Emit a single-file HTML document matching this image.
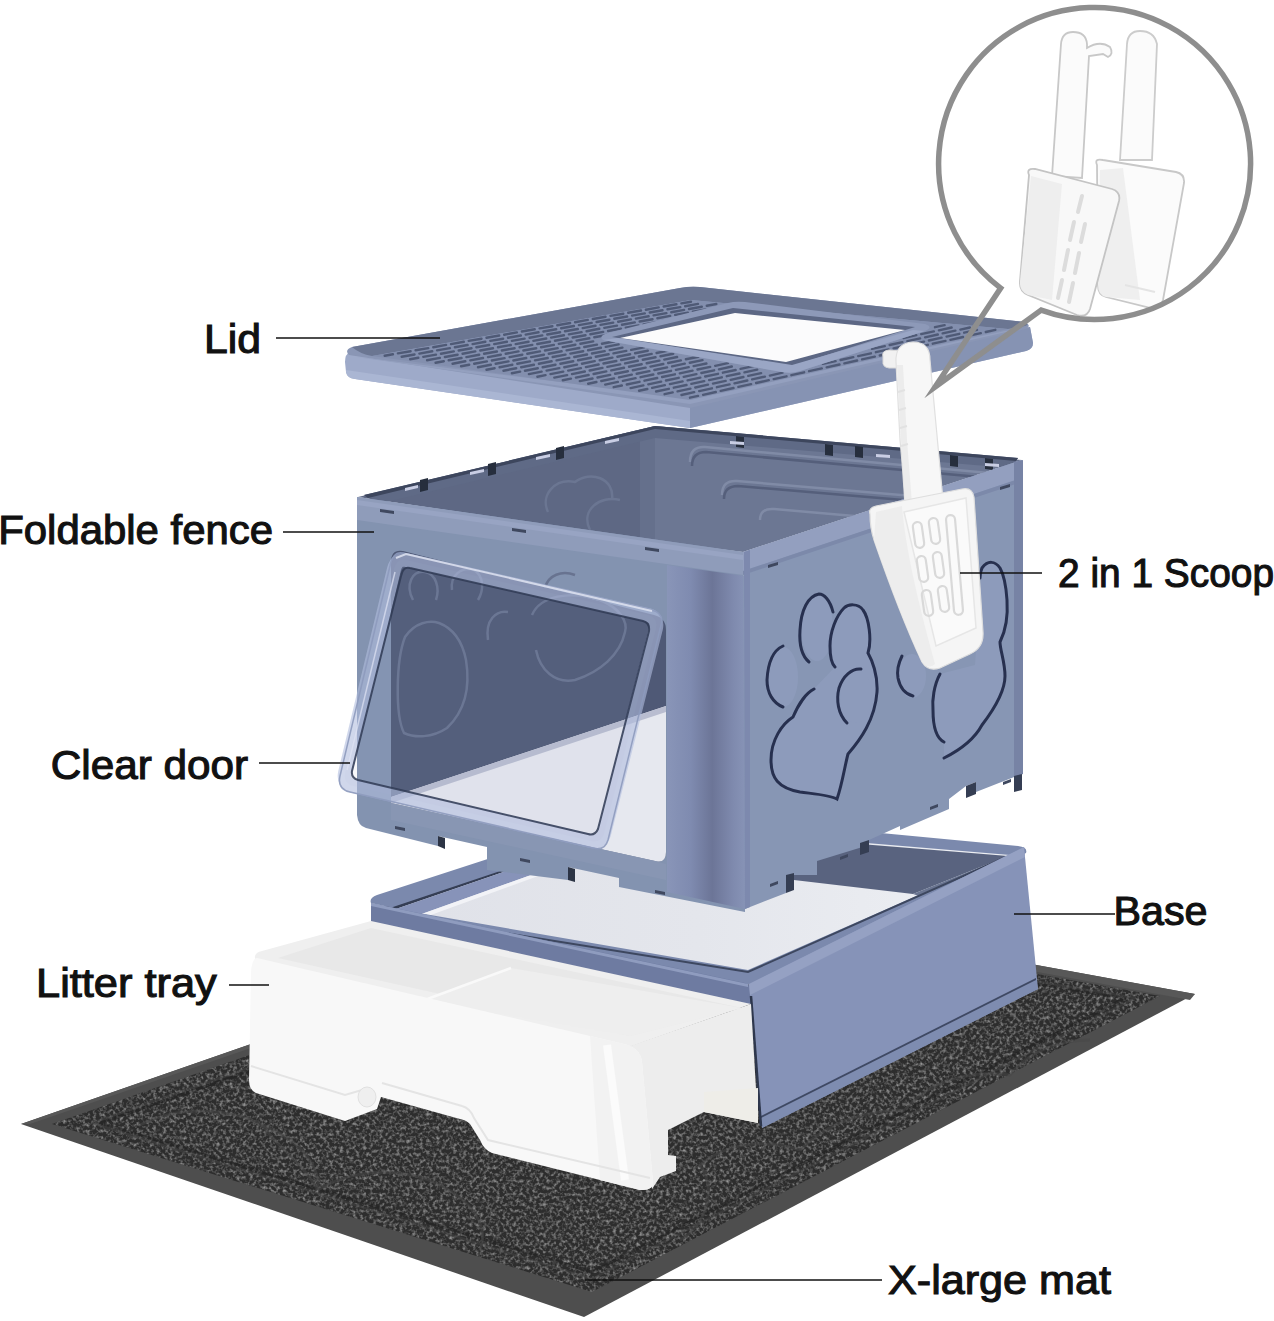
<!DOCTYPE html>
<html><head><meta charset="utf-8">
<style>
html,body{margin:0;padding:0;background:#fff;width:1274px;height:1321px;overflow:hidden}
svg{display:block}
.lb{font-family:"Liberation Sans",sans-serif;font-weight:normal;font-size:40px;fill:#111;stroke:#111;stroke-width:1.1px}
.ln{stroke:#111;stroke-width:1.6}
</style></head><body>
<svg width="1274" height="1321" viewBox="0 0 1274 1321">
<defs>
<filter id="noise" x="0" y="0" width="100%" height="100%">
<feTurbulence type="fractalNoise" baseFrequency="0.3" numOctaves="2" seed="7" result="n"/>
<feColorMatrix in="n" type="matrix" values="0 0 0 0 0.31  0 0 0 0 0.31  0 0 0 0 0.31  2.2 0 0 0 -0.95" result="m"/>
<feComposite in="m" in2="SourceGraphic" operator="in"/>
</filter>
</defs>

<!-- MAT -->
<g id="mat">
<polygon points="21,1124 670,898 1195,994 584,1317" fill="#4e4e4e"/>
<polygon points="21,1124 670,898 1195,994 1190,1000 670,904 30,1124" fill="#585858"/>
<polygon points="52,1124 670,908 1160,996 592,1292" fill="#2d2d2d"/>
<polygon points="52,1124 670,908 1160,996 592,1292" fill="#000" filter="url(#noise)"/>
<g fill="none" stroke-linejoin="round">
<polygon points="100,1123 670,925 1125,998 592,1272" stroke="#1f1f1f" stroke-width="3" stroke-opacity="0.45"/>
<polygon points="92,1123 670,920 1135,998 592,1279" stroke="#4a4a4a" stroke-width="2.5" stroke-opacity="0.4"/>
<g stroke="#474747" stroke-width="3" stroke-opacity="0.55">
<path d="M140,1125 C180,1105 230,1108 262,1125 C300,1140 320,1165 318,1190 M318,1190 C350,1170 400,1165 440,1185 C470,1200 490,1225 480,1250"/>
<path d="M262,1125 C280,1150 300,1160 318,1190"/>
<path d="M700,1165 C730,1140 770,1140 800,1150 C830,1120 870,1110 905,1110 M905,1110 C930,1080 970,1070 1010,1075 C1030,1050 1060,1040 1090,1040"/>
<path d="M700,1165 C720,1195 700,1230 680,1240"/>
</g>
</g>
</g>

<!-- BASE -->
<g id="base">
<defs>
<linearGradient id="flr" x1="0" y1="0" x2="1" y2="0">
<stop offset="0" stop-color="#dfe1e8"/><stop offset="0.5" stop-color="#e4e6ec"/><stop offset="1" stop-color="#eef0f4"/>
</linearGradient>
</defs>
<!-- floor -->
<polygon points="371,903 640,815 1026,849 749,984" fill="url(#flr)"/>
<!-- back-right inner wall dark -->
<polygon points="640,826 1008,856 913,894 640,862" fill="#59637f"/>
<polygon points="913,894 1008,856 1010,864 922,897" fill="#6a7591"/>
<!-- back-left inner wall dark -->
<polygon points="384,906 638,819 640,825 390,911" fill="#353e54"/>
<polygon points="390,911 640,825 640,836 402,921" fill="#8793b9"/>
<polygon points="402,921 640,836 640,839 406,924" fill="#f2f3f7"/>
<!-- rim top band (outer) -->
<path d="M371,903 Q369,898 377,895 L638,810 L1018,846 Q1028,847 1026,853 L757,982 Q749,986 743,984 Z M390,908 L640,824 L1010,855 L748,970 Z" fill="#7b89ad" fill-rule="evenodd"/>
<!-- inner dark line -->
<path d="M398,916 L748,972 L1006,857" fill="none" stroke="#3d475f" stroke-width="2"/>
<!-- front-left strip -->
<path d="M371,903 L745,983 Q752,985 752,994 L752,1005 L371,922 Z" fill="#6e7ba1"/>
<polygon points="371,903 748,984 748,987 371,906" fill="#8f9cbf"/>
<!-- right face -->
<polygon points="749,984 1024,847 1038,989 762,1128" fill="#8693b8"/>
<polygon points="749,984 1024,847 1025,857 750,995" fill="#95a1c3"/>
<polygon points="761,1116 1036,978 1038,989 762,1128" fill="#7e8cb0"/>
<polygon points="761,1116 1036,978 1036,980 761,1118" fill="#3f4963"/>
<line x1="751" y1="996" x2="761" y2="1126" stroke="#2e374d" stroke-width="2.5"/>
</g>


<!-- TRAY -->
<g id="tray">
<!-- top surface -->
<path d="M262,951 L371,921 L751,1004 L632,1046 Q625,1047 618,1045 L262,965 Q254,962 255,956 Q256,952 262,951 Z" fill="#efefef"/>
<polygon points="278,958 371,928 742,1008 630,1036" fill="#e8e8e8"/>
<polygon points="423,1001 511,968 742,1008 630,1036" fill="#eeeeee"/>
<line x1="422" y1="1001" x2="511" y2="968" stroke="#f9f9f9" stroke-width="2.5"/>
<!-- right face -->
<path d="M630,1046 L751,1004 L758,1123 L704,1112 L668,1130 L668,1155 L676,1156 L676,1171 L660,1177 L652,1189 L640,1100 Z" fill="#ededed"/>
<polygon points="704,1092 758,1088 758,1123 704,1112" fill="#eeede8"/>
<!-- front face -->
<path d="M257,958 L620,1043 Q641,1047 642,1062 L653,1182 Q653,1191 640,1190 L492,1153 Q484,1150 480,1140 L470,1124 Q466,1120 460,1119 L381,1097 L377,1109 L345,1121 L256,1093 Q249,1090 249,1080 L251,972 Q252,958 257,958 Z" fill="#f8f8f8"/>
<path d="M590,1036 L620,1043 Q641,1047 642,1062 L653,1182 Q653,1191 640,1190 L600,1180 Z" fill="#f2f2f2"/>
<path d="M607,1045 L625,1180" stroke="#fcfcfc" stroke-width="8" opacity="0.9"/>
<path d="M251,1066 L345,1095 L362,1090" fill="none" stroke="#e4e4e4" stroke-width="2"/>
<path d="M382,1083 L462,1106 Q470,1108 474,1118 L488,1140 L650,1178" fill="none" stroke="#e4e4e4" stroke-width="2"/>
<ellipse cx="367" cy="1097" rx="9" ry="10" fill="#efefef" stroke="#e0e0e0" stroke-width="1"/>
</g>


<!-- FENCE -->
<g id="fence">
<!-- interior walls seen from top -->
<polygon points="358,497 655,426 655,541" fill="#5e6884"/>
<polygon points="655,426 1022,460 743,552 655,541" fill="#6c7793"/>
<!-- vertical inner corner shading -->
<polygon points="640,431 655,426 655,541 640,539" fill="#65708c"/>
<!-- inner concentric rectangles emboss on back-right wall -->
<g fill="none" stroke-width="2.5">
<path d="M690,462 Q690,446 705,447 L1000,474" stroke="#808ba6"/>
<path d="M692,466 Q692,452 706,452 L990,478" stroke="#555f7b"/>
<path d="M722,495 Q722,480 737,481 L960,500" stroke="#808ba6"/>
<path d="M724,499 Q724,486 738,486 L950,504" stroke="#555f7b"/>
<path d="M760,520 Q760,508 774,509 L900,520" stroke="#808ba6"/>
</g>
<!-- faint paw emboss on back-left inner wall -->
<g fill="none" stroke="#6b7692" stroke-width="2.5">
<path d="M548,512 C540,495 555,478 575,482 C590,470 615,478 612,500"/>
<path d="M590,530 C580,510 600,495 620,500"/>
</g>
<!-- top rim dark slot strip -->
<polygon points="364,495 655,426 1018,458 1010,468 655,438 378,504" fill="#5f6a86"/>
<polygon points="364,495 655,426 1018,458 1016,461 655,429 368,498" fill="#3d465d"/>
<g fill="#262e3d">
<polygon points="420,480 428,478 428,490 420,492"/>
<polygon points="488,464 496,462 496,474 488,476"/>
<polygon points="556,448 564,446 564,458 556,460"/>
<polygon points="736,436 744,437 744,448 736,447"/>
<polygon points="825,444 833,445 833,456 825,455"/>
<polygon points="855,446 863,447 863,458 855,457"/>
<polygon points="950,455 958,456 958,467 950,466"/>
<polygon points="985,458 993,459 993,470 985,469"/>
</g>
<g fill="#c9cee4">
<polygon points="405,488 418,485 418,488 405,491"/>
<polygon points="470,472 484,469 484,472 470,475"/>
<polygon points="536,457 550,454 550,457 536,460"/>
<polygon points="605,441 619,438 619,441 605,444"/>
<polygon points="730,441 744,442 744,445 730,444"/>
<polygon points="876,454 890,455 890,458 876,457"/>
<polygon points="985,463 999,464 999,467 985,466"/>
</g>
<!-- front-left face (frame) -->
<path d="M357,497 L743,552 L745,912 L619,887 L619,878 L568,867 L568,880 L487,870 L487,847 L438,836 L438,846 L366,828 Q358,826 357,815 Z" fill="#8393b0"/>
<g fill="#2c3445"><polygon points="438,836 445,838 445,849 438,846"/><polygon points="568,867 575,869 575,882 568,880"/></g>
<!-- door opening: interior far wall -->
<path d="M391,562 Q391,549 403,551 L654,615 Q666,618 666,630 L666,852 Q666,864 655,861 L391,803 Z" fill="#4f5976"/>
<!-- faint paws on far wall -->
<g fill="none" stroke="#687390" stroke-width="2.5">
<path d="M404,733 C395,715 396,660 405,637 C415,622 430,620 439,623 C452,628 462,640 466,660 C470,685 466,710 447,728 C432,738 415,738 404,733 Z"/>
<path d="M413,600 C405,585 412,570 425,572 C436,574 440,588 436,600"/>
<path d="M452,590 C450,575 462,566 474,570 C484,576 484,590 478,600"/>
<path d="M488,640 C485,620 496,610 508,612"/>
<path d="M532,615 C540,596 570,590 600,600 C620,608 628,622 625,632 C620,655 600,672 575,680 C555,684 540,670 536,650"/>
<path d="M545,588 C548,575 562,570 575,575"/>
</g>
<!-- floor seen through opening -->
<path d="M391,797 L666,706 L666,852 Q666,864 655,861 L391,803 Z" fill="#e6e8ef"/>
<polygon points="391,797 666,706 666,712 391,803" fill="#b9bdd0"/>
<!-- top rim band front-left -->
<polygon points="357,497 743,552 743,575 357,520" fill="#8f9cba"/>
<polygon points="357,500 743,555 743,560 357,505" fill="#98a4c3"/>
<!-- front corner pillar highlight -->
<defs><linearGradient id="pil" x1="0" y1="0" x2="1" y2="0">
<stop offset="0" stop-color="#8995b8"/><stop offset="0.3" stop-color="#7f8bb0"/><stop offset="0.58" stop-color="#6c7597"/><stop offset="0.85" stop-color="#7f8aae"/><stop offset="1" stop-color="#8793b6"/></linearGradient></defs>
<polygon points="667,565 745,576 745,909 667,892" fill="url(#pil)"/>
<!-- bottom band below door -->
<polygon points="391,803 655,861 666,864 666,880 391,820" fill="#8896b3"/>
<!-- tab slots front-left -->
<g fill="#3f485f">
<polygon points="380,509 394,511 394,514 380,512"/>
<polygon points="512,528 526,530 526,533 512,531"/>
<polygon points="645,547 659,549 659,552 645,550"/>
<polygon points="395,826 405,828 405,831 395,829"/>
<polygon points="520,858 530,860 530,863 520,861"/>
<polygon points="655,890 665,892 665,895 655,893"/>
</g>
<!-- right face -->
<path d="M743,552 L1022,460 L1022,774 L976,792 L976,782 L966,786 L949,799 L949,809 L900,830 L900,826 L869,840 L869,845 L817,861 L817,875 L786,875 L786,893 L745,909 Z" fill="#8796b4"/>
<polygon points="743,552 1022,460 1022,478 743,571" fill="#939fbf"/>
<polygon points="743,571 1022,478 1022,482 743,575" fill="#7c89aa"/>
<!-- front vertical corner edge -->
<polygon points="744,552 750,550 750,907 745,909" fill="#7d89ae"/>
<!-- right edge -->
<polygon points="1014,462 1023,460 1023,774 1014,778" fill="#7783a5"/>
<!-- dark tab notches right face -->
<g fill="#353e53">
<polygon points="786,875 794,873 794,890 786,893"/>
<polygon points="860,843 869,840 869,852 860,855"/>
<polygon points="966,786 976,782 976,794 966,798"/>
<polygon points="1014,776 1022,774 1022,790 1014,792"/>
</g>
<g fill="#3f485f">
<polygon points="768,565 778,562 778,565 768,568"/>
<polygon points="890,524 900,521 900,524 890,527"/>
<polygon points="1000,487 1010,484 1010,487 1000,490"/>
<polygon points="770,884 778,881 778,884 770,887"/>
<polygon points="840,857 848,854 848,857 840,860"/>
<polygon points="930,807 938,804 938,807 930,810"/>
<polygon points="1003,782 1011,779 1011,782 1003,785"/>
</g>
<!-- paws on right face -->
<g fill="#95a2c4" opacity="0.45">
<path d="M814,689 C806,693 798,705 793,717 C782,724 771,740 771,760 C771,778 778,788 800,792 C815,794 830,795 837,799 C842,785 845,765 848,754 C860,740 875,720 877,692 C878,675 872,660 868,653 C872,640 869,618 863,610 C858,603 848,604 844,608 C836,616 830,632 830,646 C830,656 832,664 835,667 Z"/>
<ellipse cx="817" cy="628" rx="16" ry="33"/>
<ellipse cx="783" cy="677" rx="15" ry="30"/>
<ellipse cx="856" cy="696" rx="16" ry="27"/>
<path d="M944,758 C960,750 975,738 982,725 C995,708 1005,690 1005,676 C1005,662 1000,650 1000,642 C1006,630 1008,615 1007,600 C1006,585 1004,575 1000,568 C995,561 988,560 982,568 L975,665 L940,674 C934,685 932,700 933,710 C933,725 936,738 944,742 Z"/>
<ellipse cx="912" cy="676" rx="14" ry="22"/>
</g>
<g fill="none" stroke="#27304f" stroke-width="3" stroke-linecap="round">
<path d="M814,689 C806,693 798,705 793,717 C782,724 771,740 771,760 C771,778 778,788 800,792 C815,794 830,795 837,799 C842,785 845,765 848,754 C860,740 875,720 877,692 C878,675 872,660 868,653 C872,640 869,618 863,610 C858,603 848,604 844,608 C836,616 830,632 830,646 C830,656 832,664 835,667"/>
<path d="M833,612 C830,600 824,594 819,594 C808,596 801,610 800,630 C799,645 802,656 809,662"/>
<path d="M783,646 C774,650 768,662 767,680 C767,693 773,703 783,707"/>
<path d="M861,669 C852,668 843,676 839,688 C836,700 838,714 847,723"/>
<path d="M940,674 C934,685 932,700 933,710 C933,725 936,738 944,742"/>
<path d="M944,758 C960,750 975,738 982,725 C995,708 1005,690 1005,676 C1005,662 1000,650 1000,642 C1006,630 1008,615 1007,600 C1006,585 1004,575 1000,568 C995,561 988,560 982,568 C980,572 980,576 980,578"/>
<path d="M902,656 C898,664 897,672 898,678 C900,688 905,694 913,696"/>
</g>

</g>


<g id="door">
<path d="M406,560 L648,615 Q658,618 656,628 L604,834 Q601,843 591,841 L353,786 Q343,783 345,773 L394,569 Q397,558 406,560 Z" fill="#9aa7c9" fill-opacity="0.08" stroke="#b0bddd" stroke-opacity="0.6" stroke-width="14" stroke-linejoin="round"/>
<path d="M403,553 L652,610 Q664,613 661,625 L608,840 Q605,851 593,848 L350,792 Q337,789 340,776 L390,566 Q393,551 403,553 Z" fill="none" stroke="#8d9abc" stroke-width="1.5" stroke-opacity="0.9"/>
<path d="M410,568 L643,621 Q650,623 649,631 L598,829 Q595,836 588,834 L358,780 Q351,778 352,771 L401,576 Q403,566 410,568 Z" fill="none" stroke="#2f3a54" stroke-width="2" stroke-opacity="0.85"/>
<path d="M396,558 L406,554 L652,611" fill="none" stroke="#e3e7f4" stroke-width="2" stroke-opacity="0.8"/>
<path d="M347,770 L395,572" fill="none" stroke="#dfe4f4" stroke-width="1.5" stroke-opacity="0.7"/>
</g>
<!-- LID -->
<g id="lid">
<path d="M350,352 Q345,354 345,362 L346,372 Q347,378 355,379 L690,428 L1026,351 Q1033,349 1033,343 L1030,327 L690,407 Z" fill="#9eaac9"/>
<path d="M690,407 L1030,327 L1033,343 Q1033,349 1026,351 L690,428 Z" fill="#8693b3"/>
<path d="M346,370 L690,421 L690,428 L355,379 Q347,378 346,372 Z" fill="#aab6d3"/>
<path d="M352,347 Q344,350 349,355 L690,408 L1026,329 Q1032,326 1025,322 L700,287 Q690,286 680,288 Z" fill="#8a96b5"/>
<path d="M352,347 L680,288 Q690,286 700,287 L1025,322 Q1032,326 1018,327 L1008,329 L691,300 L372,356 Q360,354 352,347 Z" fill="#6b7692"/>
<polygon points="356,357 690,404 1015,330 1005,331 690,398 375,359" fill="#94a0bf"/>
<polygon points="372,356 691,300 1008,329 690,400" fill="#838fae"/>
<path d="M384.7,355.8L392.9,354.3M397.9,353.4L410.6,351.2M415.6,350.3L428.3,348.1M433.3,347.2L446.1,344.9M451.0,344.1L463.8,341.8M468.7,340.9L481.5,338.7M486.5,337.8L499.2,335.5M504.2,334.7L516.9,332.4M521.9,331.5L534.7,329.3M539.6,328.4L552.4,326.2M557.3,325.3L570.1,323.0M575.1,322.2L587.8,319.9M592.8,319.0L605.5,316.8M610.5,315.9L623.3,313.7M628.2,312.8L641.0,310.5M645.9,309.7L658.7,307.4M663.7,306.5L676.4,304.3M681.4,303.4L691.0,301.7M401.7,356.7L414.5,354.5M419.4,353.6L432.2,351.3M437.1,350.4L449.9,348.1M454.9,347.3L467.6,345.0M472.6,344.1L485.3,341.8M490.3,340.9L503.1,338.7M508.0,337.8L520.8,335.5M525.7,334.6L538.5,332.3M543.5,331.5L556.2,329.2M561.2,328.3L573.9,326.0M578.9,325.1L591.7,322.9M596.6,322.0L609.4,319.7M614.3,318.8L627.1,316.5M632.1,315.6L644.8,313.4M649.8,312.5L662.5,310.2M667.5,309.3L680.3,307.1M685.2,306.2L698.0,303.9M410.2,359.2L418.3,357.8M423.3,356.9L436.0,354.6M441.0,353.7L453.8,351.4M458.7,350.5L471.5,348.2M476.4,347.3L489.2,345.0M494.2,344.1L506.9,341.8M511.9,340.9L524.6,338.6M529.6,337.7L542.3,335.4M547.3,334.5L560.1,332.2M565.0,331.3L577.8,329.0M582.7,328.1L595.5,325.8M600.5,324.9L613.2,322.6M618.2,321.7L630.9,319.4M635.9,318.6L648.6,316.3M653.6,315.4L666.4,313.1M671.3,312.2L684.1,309.9M689.0,309.0L701.8,306.7M706.8,305.8L716.3,304.0M427.1,360.2L439.9,357.9M444.9,357.0L457.6,354.7M462.6,353.8L475.3,351.4M480.3,350.5L493.0,348.2M498.0,347.3L510.8,345.0M515.7,344.1L528.5,341.8M533.4,340.9L546.2,338.5M551.1,337.6L563.9,335.3M568.9,334.4L581.6,332.1M586.6,331.2L599.3,328.8M604.3,327.9L617.0,325.6M622.0,324.7L634.8,322.4M639.7,321.5L652.5,319.2M657.4,318.3L670.2,315.9M675.2,315.0L687.9,312.7M692.9,311.8L705.6,309.5M435.6,362.7L443.8,361.2M448.7,360.3L461.5,358.0M466.4,357.1L479.2,354.7M484.1,353.8L496.9,351.5M501.9,350.5L514.6,348.2M519.6,347.3L532.3,344.9M537.3,344.0L550.0,341.7M555.0,340.8L567.7,338.4M572.7,337.5L585.5,335.2M590.4,334.2L603.2,331.9M608.1,331.0L620.9,328.6M625.8,327.7L638.6,325.4M643.6,324.5L656.3,322.1M661.3,321.2L674.0,318.9M452.6,363.7L465.3,361.3M470.3,360.4L483.0,358.0M488.0,357.1L500.8,354.7M505.7,353.8L518.5,351.4M523.4,350.5L536.2,348.2M541.1,347.2L553.9,344.9M558.8,343.9L571.6,341.6M576.6,340.6L589.3,338.3M594.3,337.3L607.0,335.0M612.0,334.1L624.7,331.7M461.1,366.2L469.2,364.7M474.2,363.8L486.9,361.4M491.9,360.5L504.6,358.1M509.6,357.1L522.3,354.7M527.3,353.8L540.0,351.4M545.0,350.5L557.7,348.1M562.7,347.1L575.4,344.7M580.4,343.8L593.2,341.4M478.0,367.2L490.8,364.8M495.7,363.8L508.5,361.4M513.4,360.5L526.2,358.0M531.1,357.1L543.9,354.7M548.8,353.7L561.6,351.3M566.6,350.4L579.3,348.0M584.3,347.0L597.0,344.6M602.0,343.7L614.7,341.2M486.5,369.7L494.6,368.2M499.6,367.2L512.3,364.8M517.3,363.8L530.0,361.4M535.0,360.4L547.7,358.0M552.7,357.0L565.5,354.6M570.4,353.6L583.2,351.2M588.1,350.3L600.9,347.8M605.8,346.9L618.6,344.4M503.5,370.7L516.2,368.2M521.2,367.2L533.9,364.8M538.9,363.8L551.6,361.3M556.6,360.4L569.3,357.9M574.3,357.0L587.0,354.5M592.0,353.5L604.7,351.1M609.7,350.1L622.4,347.6M511.9,373.2L520.1,371.6M525.0,370.7L537.8,368.2M542.7,367.2L555.5,364.7M560.4,363.8L573.2,361.3M578.1,360.3L590.9,357.8M595.8,356.8L608.6,354.3M613.5,353.4L626.3,350.9M631.2,349.9L644.0,347.4M528.9,374.1L541.6,371.6M546.6,370.6L559.3,368.1M564.3,367.2L577.0,364.6M582.0,363.7L594.7,361.1M599.7,360.2L612.4,357.6M617.4,356.7L630.1,354.2M635.1,353.2L647.8,350.7M537.4,376.7L545.5,375.1M550.5,374.1L563.2,371.6M568.2,370.6L580.9,368.1M585.9,367.1L598.6,364.5M603.5,363.5L616.3,361.0M621.2,360.0L634.0,357.5M638.9,356.5L651.7,353.9M656.6,353.0L669.4,350.4M554.3,377.6L567.1,375.1M572.0,374.1L584.8,371.5M589.7,370.5L602.5,367.9M607.4,366.9L620.2,364.4M625.1,363.4L637.8,360.8M642.8,359.8L655.5,357.3M660.5,356.3L673.2,353.7M562.8,380.2L570.9,378.6M575.9,377.6L588.6,375.0M593.6,374.0L606.3,371.4M611.3,370.4L624.0,367.8M629.0,366.8L641.7,364.2M646.7,363.2L659.4,360.6M664.3,359.6L677.1,357.0M579.8,381.1L592.5,378.5M597.5,377.5L610.2,374.9M615.1,373.8L627.9,371.2M632.8,370.2L645.6,367.6M650.5,366.6L663.3,364.0M668.2,363.0L680.9,360.4M685.9,359.3L698.6,356.7M588.2,383.7L596.4,382.0M601.3,381.0L614.1,378.4M619.0,377.4L631.8,374.7M636.7,373.7L649.4,371.1M654.4,370.0L667.1,367.4M672.1,366.4L684.8,363.7M689.8,362.7L702.5,360.1M605.2,384.6L617.9,381.9M622.9,380.9L635.6,378.2M640.6,377.2L653.3,374.5M658.3,373.5L671.0,370.8M675.9,369.8L688.7,367.1M693.6,366.1L706.4,363.5M613.7,387.2L621.8,385.5M626.8,384.5L639.5,381.8M644.5,380.7L657.2,378.0M662.1,377.0L674.9,374.3M679.8,373.3L692.5,370.6M697.5,369.5L710.2,366.9M715.2,365.8L727.9,363.1M630.6,388.1L643.4,385.4M648.3,384.3L661.1,381.6M666.0,380.5L678.7,377.8M683.7,376.8L696.4,374.1M701.4,373.0L714.1,370.3M719.0,369.3L731.8,366.5M639.1,390.7L647.3,389.0M652.2,387.9L664.9,385.2M669.9,384.1L682.6,381.4M687.6,380.3L700.3,377.6M705.2,376.5L718.0,373.8M722.9,372.7L735.6,370.0M740.6,368.9L753.3,366.2M935.0,327.2L944.6,325.1M656.1,391.5L668.8,388.8M673.8,387.7L686.5,385.0M691.4,383.9L704.2,381.1M709.1,380.1L721.8,377.3M726.8,376.2L739.5,373.5M744.5,372.4L757.2,369.6M903.5,338.0L916.3,335.2M921.2,334.1L933.9,331.4M938.9,330.3L951.6,327.5M664.6,394.2L672.7,392.4M677.6,391.4L690.4,388.6M695.3,387.5L708.0,384.7M713.0,383.6L725.7,380.9M730.7,379.8L743.4,377.0M748.3,375.9L761.1,373.1M872.0,348.9L884.8,346.1M889.7,345.0L902.4,342.2M907.4,341.2L920.1,338.4M925.1,337.3L937.8,334.5M942.7,333.4L955.4,330.7M960.4,329.6L969.9,327.5M681.5,395.0L694.2,392.2M699.2,391.1L711.9,388.3M716.9,387.2L729.6,384.4M734.5,383.3L747.3,380.5M752.2,379.4L764.9,376.6M769.9,375.6L782.6,372.7M822.9,363.9L835.6,361.1M840.6,360.0L853.3,357.2M858.2,356.1L870.9,353.3M875.9,352.2L888.6,349.4M893.6,348.3L906.3,345.5M911.2,344.4L924.0,341.6M928.9,340.5L941.6,337.7M946.6,336.6L959.3,333.8M964.2,332.7L977.0,329.9M690.0,397.7L698.1,395.9M703.1,394.8L715.8,392.0M720.7,390.9L733.5,388.0M738.4,386.9L751.1,384.1M756.1,383.0L768.8,380.2M773.7,379.1L786.5,376.3M791.4,375.2L804.1,372.3M809.1,371.2L821.8,368.4M826.7,367.3L839.5,364.5M844.4,363.4L857.1,360.5M862.1,359.4L874.8,356.6M879.8,355.5L892.5,352.7M897.4,351.6L910.1,348.8M915.1,347.7L927.8,344.8M932.8,343.7L945.5,340.9M950.4,339.8L963.1,337.0M968.1,335.9L980.8,333.1M985.8,332.0L995.3,329.8" stroke="#4f5a76" stroke-width="2.4" stroke-linecap="round" fill="none"/>
<path d="M603,340 Q598,336 608,333 L728,303 Q735,301 745,302 L925,324 Q934,327 925,331 L800,371 Q792,374 782,372 Z" fill="#8d99b8"/>
<polygon points="612,337 733,308 915,327 792,366" fill="#5c6784"/>
<path d="M620,338 L735,313 L905,330 L786,362 Z" fill="#fbfbfc"/>
<path d="M603,340 L782,372 Q792,374 800,371 L925,331 L913,330 L792,365 L618,338 Z" fill="#9aa6c5"/>
</g>
<g id="hscoop">
<!-- hook nub -->
<path d="M883,357 Q881,351 889,350 L902,351 L903,368 L889,368 Q882,367 883,361 Z" fill="#f1f1f1" stroke="#d9d9d9" stroke-width="1"/>
<!-- handle -->
<path d="M896,362 Q895,343 913,342 Q930,342 930,360 L943,500 L905,506 Q903,470 900,440 Z" fill="#f7f7f7" stroke="#e0e0e0" stroke-width="1.2"/>
<path d="M897,365 L901,440 L905,505 L912,504 L907,440 L903,365 Z" fill="#ececec"/>
<path d="M898,392 L905,390 M899,410 L906,408 M900,428 L907,426 M901,446 L908,444" stroke="#e2e2e2" stroke-width="2"/>
<!-- blade -->
<path d="M870,514 Q868,508 876,506 L962,489 Q972,487 974,497 L983,632 Q984,648 970,654 L940,668 Q928,672 922,662 Q900,615 874,540 Q870,528 870,514 Z" fill="#f5f5f5" stroke="#dedede" stroke-width="1.2"/>
<path d="M876,512 L902,506 Q906,560 935,664 Q928,670 922,662 Q900,615 874,540 Z" fill="#ededed"/>
<path d="M904,512 L966,498 L976,628 L936,646 Z" fill="#fafafa" stroke="#e6e6e6" stroke-width="1.5"/>
<g fill="none" stroke="#d9d9d9" stroke-width="2.2">
<rect x="914" y="522" width="9" height="26" rx="4.5" transform="rotate(-8 918 535)"/>
<rect x="930" y="518" width="9" height="26" rx="4.5" transform="rotate(-8 934 531)"/>
<rect x="918" y="556" width="9" height="26" rx="4.5" transform="rotate(-8 922 569)"/>
<rect x="934" y="552" width="9" height="26" rx="4.5" transform="rotate(-8 938 565)"/>
<rect x="923" y="590" width="9" height="26" rx="4.5" transform="rotate(-8 927 603)"/>
<rect x="939" y="586" width="9" height="26" rx="4.5" transform="rotate(-8 943 599)"/>
<rect x="950" y="515" width="9" height="100" rx="4.5" transform="rotate(-5 954 565)"/>
</g>
</g>
<!-- CALLOUT -->
<g id="callout">
<g id="cscoops">
<!-- scoop B (right, behind) -->
<path d="M1127,44 Q1128,31 1140,31 Q1154,31 1157,44 L1152,160 L1120,160 Z" fill="#fbfbfb" stroke="#cccccc" stroke-width="1.8"/>
<path d="M1097,165 Q1094,158 1103,160 L1176,172 Q1185,174 1184,183 L1163,300 Q1161,309 1151,308 L1106,297 Q1098,295 1098,285 Z" fill="#fbfbfb" stroke="#c8c8c8" stroke-width="1.8"/>
<path d="M1100,170 L1123,168 L1140,300 L1106,297 Q1098,295 1098,285 Z" fill="#efefef"/>
<path d="M1125,285 L1155,292" stroke="#e4e4e4" stroke-width="2"/>
<!-- scoop A (left, front) -->
<path d="M1061,44 Q1062,32 1073,32 Q1086,32 1087,44 L1087,48 Q1100,40 1110,47 Q1114,54 1108,57 L1103,54 L1089,56 L1082,178 L1052,176 Z" fill="#fbfbfb" stroke="#c8c8c8" stroke-width="1.8"/>
<path d="M1029,175 Q1026,168 1035,169 L1112,189 Q1121,192 1119,201 L1090,309 Q1087,318 1077,315 L1028,295 Q1019,291 1020,281 Z" fill="#f8f8f8" stroke="#c4c4c4" stroke-width="1.8"/>
<path d="M1031,176 L1062,184 L1052,300 L1028,295 Q1019,291 1020,281 Z" fill="#eeeeee"/>
<g stroke="#dcdcdc" stroke-width="4" stroke-linecap="round">
<line x1="1082" y1="196" x2="1078" y2="212"/>
<line x1="1074" y1="222" x2="1070" y2="240"/>
<line x1="1085" y1="224" x2="1081" y2="242"/>
<line x1="1068" y1="250" x2="1064" y2="270"/>
<line x1="1079" y1="253" x2="1075" y2="273"/>
<line x1="1062" y1="280" x2="1058" y2="298"/>
<line x1="1073" y1="283" x2="1069" y2="302"/>
</g>
</g>

<path d="M1000.7,288.1 A156,156 0 1 1 1041.2,310.1 L935,387 Z" fill="none" stroke="#8e8e8e" stroke-width="5.5" stroke-linejoin="miter" stroke-miterlimit="30"/>
</g>

<!-- LABELS -->
<g id="labels">
<text class="lb" x="204" y="352.7" textLength="57" lengthAdjust="spacingAndGlyphs">Lid</text>
<line class="ln" x1="276" y1="338" x2="440" y2="338"/>
<text class="lb" x="-1.8" y="544.3" textLength="274.8" lengthAdjust="spacingAndGlyphs">Foldable fence</text>
<line class="ln" x1="283" y1="532" x2="374" y2="532"/>
<text class="lb" x="50.8" y="778.5" textLength="197.2" lengthAdjust="spacingAndGlyphs">Clear door</text>
<line class="ln" x1="259" y1="763" x2="350" y2="763"/>
<text class="lb" x="36" y="997.3" textLength="180.8" lengthAdjust="spacingAndGlyphs">Litter tray</text>
<line class="ln" x1="229" y1="985" x2="269" y2="985"/>
<text class="lb" x="1058" y="586.6" textLength="216" lengthAdjust="spacingAndGlyphs">2 in 1 Scoop</text>
<line class="ln" x1="960" y1="573" x2="1042" y2="573"/>
<text class="lb" x="1113.5" y="924.6" textLength="94" lengthAdjust="spacingAndGlyphs">Base</text>
<line class="ln" x1="1014" y1="914" x2="1115" y2="914"/>
<text class="lb" x="888" y="1294" textLength="223" lengthAdjust="spacingAndGlyphs">X-large mat</text>
<line class="ln" x1="585" y1="1280" x2="882" y2="1280"/>
</g>
</svg>
</body></html>
